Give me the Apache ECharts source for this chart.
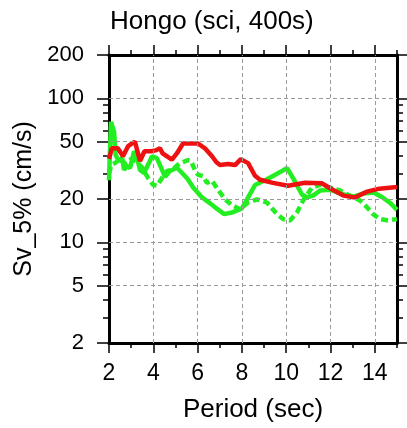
<!DOCTYPE html>
<html>
<head>
<meta charset="utf-8">
<script src="https://cdn.jsdelivr.net/npm/echarts@6/dist/echarts.min.js"></script>
<style>
html,body{margin:0;padding:0;background:#fff;}
#chart{width:407px;height:428px;}
</style>
</head>
<body>
<div id="chart"></div>
<script>
// ---- data ----
const redX = [2.0, 2.13, 2.4, 2.63, 2.86, 3.17, 3.4, 3.6, 3.9, 4.1, 4.3, 4.42, 4.84, 5.07, 5.34, 6.02, 6.33, 6.65, 6.85, 7.01, 7.37, 7.69, 7.95, 8.28, 8.59, 8.82, 9.4, 10.08, 10.85, 11.6, 12.1, 12.6, 13.1, 13.65, 14.2, 15.0];
const redY = [38, 45, 45, 39.6, 46.5, 50, 36.7, 42.9, 42.9, 43.5, 45, 41.5, 37.5, 41.6, 48.6, 48.6, 45, 39.6, 36, 34.4, 35, 34.4, 37.8, 35.5, 29, 27.2, 25.9, 24.7, 25.9, 25.7, 23.2, 21.1, 20.5, 22.5, 23.6, 24.2];

const greenX = [2.0, 2.09, 2.23, 2.3, 2.45, 2.59, 2.68, 2.81, 2.95, 3.13, 3.27, 3.4, 3.58, 3.8, 3.94, 4.16, 4.35, 4.53, 4.75, 5.07, 5.3, 5.55, 5.8, 6.0, 6.2, 6.4, 6.6, 6.85, 7.2, 7.6, 8.0, 8.28, 8.59, 9.0, 9.4, 9.81, 10.04, 10.3, 10.71, 10.94, 11.21, 11.53, 11.98, 12.45, 13.02, 13.47, 13.95, 14.35, 14.69, 15.0];
const greenY = [27, 68.7, 58.7, 40.3, 36.7, 38.4, 31.8, 33.9, 32.8, 42.9, 38.4, 31.8, 30.3, 35.5, 39.6, 38.4, 33, 28.5, 31.3, 33, 30.3, 27.5, 24, 22.2, 20.5, 19.5, 18.5, 17.2, 15.7, 16.2, 17.2, 20.5, 25, 26.8, 28.9, 31.3, 32.8, 28, 21.5, 20.5, 21.1, 22.9, 23.2, 21.8, 20.8, 21.8, 22.2, 20.5, 18.8, 16.8];

const dashX = [2.0, 2.1, 2.27, 2.5, 2.75, 3.0, 3.25, 3.5, 3.76, 3.99, 4.17, 4.39, 4.62, 4.84, 5.2, 5.57, 5.7, 5.88, 6.02, 6.24, 6.42, 6.65, 6.92, 7.24, 7.55, 7.91, 8.28, 8.68, 9.13, 9.58, 9.86, 10.17, 10.49, 10.76, 11.16, 11.53, 11.98, 12.43, 12.88, 13.33, 13.65, 13.92, 14.23, 14.6, 15.0];
const dashY = [30, 34.4, 35.5, 38, 35, 38, 36, 33, 28, 25.1, 24.7, 28, 31.3, 31.8, 35.5, 37.2, 36.7, 31.8, 29.4, 28.9, 25.9, 26.8, 23.2, 19.9, 18.1, 17, 18.9, 19.9, 18.9, 15.7, 14.5, 14.2, 16.2, 19.5, 24, 25.1, 24, 22.9, 21.1, 19.5, 17.5, 15.7, 14.5, 14.2, 14.5];

const xMajor = [2, 4, 6, 8, 10, 12, 14];
const xMinor = [3, 5, 7, 9, 11, 13, 15];
const yMajor = [2, 5, 10, 20, 50, 100, 200];
const yMinor = [3, 4, 6, 7, 8, 9, 30, 40, 60, 70, 80, 90];
const xGrid = [4, 6, 8, 10, 12, 14];
const yGrid = [5, 10, 20, 50, 100];

const titleText = 'Hongo (sci, 400s)';
const xName = 'Period (sec)';
const yName = 'Sv_5% (cm/s)';

// ---- chart ----
const FONT = '"Liberation Sans", Arial, Helvetica, sans-serif';
const zip = (xs, ys) => xs.map((x, i) => [x, ys[i]]);
const black = '#000';

function xAx(pos, major, showLabel) {
  return {
    type: 'value', min: 2, max: 15, position: pos,
    axisLine: { show: major, lineStyle: { color: black, width: 3 } },
    axisTick: { show: true, inside: false, length: major ? 10 : 5,
      customValues: major ? xMajor : xMinor, lineStyle: { color: black, width: 1.5 } },
    axisLabel: { show: major && showLabel, customValues: xMajor, margin: 19,
      fontFamily: FONT, fontSize: 23, color: black },
    splitLine: { show: false },
    name: (major && showLabel) ? xName : '',
    nameLocation: 'middle', nameGap: 54,
    nameTextStyle: { fontFamily: FONT, fontSize: 26, color: black }
  };
}
function yAx(pos, major, showLabel) {
  return {
    type: 'log', logBase: 10, min: 2, max: 200, position: pos,
    axisLine: { show: major, lineStyle: { color: black, width: 3 } },
    axisTick: { show: true, inside: false, length: major ? 12 : 6,
      customValues: major ? yMajor : yMinor, lineStyle: { color: black, width: 1.5 } },
    axisLabel: { show: major && showLabel, customValues: yMajor, margin: 25,
      fontFamily: FONT, fontSize: 22, color: black },
    splitLine: { show: false },
    minorTick: { show: false },
    name: (major && showLabel) ? yName : '',
    nameLocation: 'middle', nameGap: 71, nameRotate: 90,
    nameTextStyle: { fontFamily: FONT, fontSize: 25, color: black }
  };
}

const gridLineData = yGrid.map(v => ({ yAxis: v })).concat(xGrid.map(v => ({ xAxis: v })));

const option = {
  backgroundColor: '#fff',
  animation: false,
  title: {
    text: titleText, left: 110, top: 9, padding: 0,
    textStyle: { fontFamily: FONT, fontSize: 26, fontWeight: 'normal', color: black }
  },
  grid: { left: 109, right: 10, top: 55, bottom: 80, containLabel: false },
  xAxis: [xAx('bottom', true, true), xAx('bottom', false, false), xAx('top', true, false), xAx('top', false, false)],
  yAxis: [yAx('left', true, true), yAx('left', false, false), yAx('right', true, false), yAx('right', false, false)],
  series: [
    {
      type: 'line', name: 'grid', data: [], z: 1, silent: true,
      markLine: {
        silent: true, symbol: ['none', 'none'], animation: false,
        label: { show: false },
        lineStyle: { color: '#9a9a9a', width: 1, type: [4, 3] },
        emphasis: { disabled: true },
        data: gridLineData
      }
    },
    {
      type: 'line', name: 'dashed', data: zip(dashX, dashY), z: 2,
      symbol: 'none', lineStyle: { color: '#22ee22', width: 4.5, type: [7, 4] }
    },
    {
      type: 'line', name: 'green', data: zip(greenX, greenY), z: 3,
      symbol: 'none', lineStyle: { color: '#22ee22', width: 4.5 }
    },
    {
      type: 'line', name: 'red', data: zip(redX, redY), z: 4,
      symbol: 'none', lineStyle: { color: '#ee1111', width: 4.5 }
    }
  ]
};
const chart = echarts.init(document.getElementById('chart'), null, { renderer: 'canvas' });
chart.setOption(option);
</script>
</body>
</html>
